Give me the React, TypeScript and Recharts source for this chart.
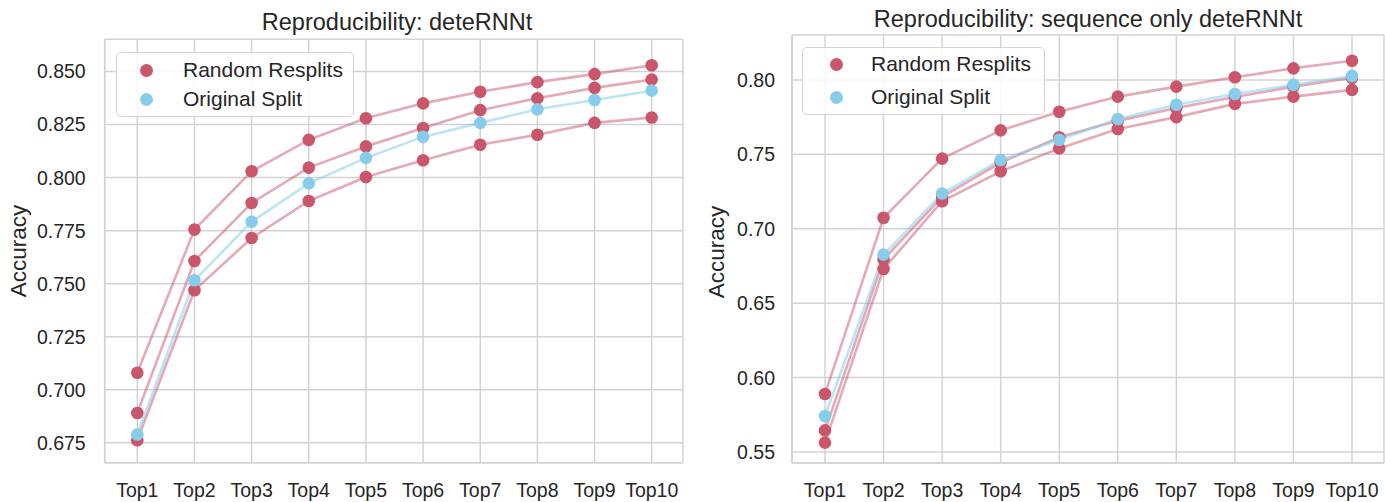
import React from 'react';
import { LineChart, Line, XAxis, YAxis, CartesianGrid, Legend } from 'recharts';

const categories = ['Top1', 'Top2', 'Top3', 'Top4', 'Top5', 'Top6', 'Top7', 'Top8', 'Top9', 'Top10'];

// left panel: deteRNNt
const leftResplitHigh = [0.708, 0.7755, 0.803, 0.8178, 0.828, 0.835, 0.8405, 0.845, 0.8488, 0.853];
const leftResplitMid = [0.689, 0.7607, 0.788, 0.8047, 0.8147, 0.8234, 0.8318, 0.8374, 0.8423, 0.8462];
const leftResplitLow = [0.6762, 0.7469, 0.7715, 0.789, 0.8003, 0.8082, 0.8155, 0.8202, 0.8258, 0.8283];
const leftOriginal = [0.6789, 0.7516, 0.7792, 0.7973, 0.8093, 0.8192, 0.8258, 0.8322, 0.8366, 0.841];
const leftTicks = [0.675, 0.7, 0.725, 0.75, 0.775, 0.8, 0.825, 0.85];

// right panel: sequence only deteRNNt
const rightResplitHigh = [0.589, 0.7074, 0.7471, 0.7661, 0.7786, 0.7888, 0.7955, 0.8018, 0.8078, 0.8129];
const rightResplitMid = [0.5645, 0.6794, 0.7215, 0.7445, 0.7615, 0.7725, 0.7812, 0.7885, 0.7955, 0.8015];
const rightResplitLow = [0.5563, 0.673, 0.7185, 0.7386, 0.754, 0.767, 0.775, 0.7839, 0.7888, 0.7933];
const rightOriginal = [0.5742, 0.6826, 0.7237, 0.7462, 0.7598, 0.7738, 0.7833, 0.7906, 0.7967, 0.8027];
const rightTicks = [0.55, 0.6, 0.65, 0.7, 0.75, 0.8];

const RED = '#c9566b';
const BLUE = '#87cdeb';
const GRID = '#d3d3d3';
const TEXT = '#262626';
const FONT = '"Liberation Sans", Arial, Helvetica, sans-serif';

const buildRows = (high: number[], mid: number[], low: number[], orig: number[]) =>
  categories.map((cat, i) => ({ cat, high: high[i], mid: mid[i], low: low[i], orig: orig[i] }));

const leftRows = buildRows(leftResplitHigh, leftResplitMid, leftResplitLow, leftOriginal);
const rightRows = buildRows(rightResplitHigh, rightResplitMid, rightResplitLow, rightOriginal);

type LegendGeom = { left: number; top: number; width: number; height: number; dotX: number; rowY: number[]; textX: number };

const LegendBox = ({ g }: { g: LegendGeom }) => {
  const items = [
    { name: 'Random Resplits', color: RED },
    { name: 'Original Split', color: BLUE },
  ];
  return (
    <div
      style={{
        position: 'relative',
        width: g.width,
        height: g.height,
        boxSizing: 'border-box',
        border: `1.5px solid ${GRID}`,
        borderRadius: 5,
        background: 'rgba(255,255,255,0.85)',
        fontFamily: FONT,
      }}
    >
      {items.map((it, i) => (
        <React.Fragment key={it.name}>
          <div
            style={{
              position: 'absolute',
              left: g.dotX - 6.5,
              top: g.rowY[i] - 6.5,
              width: 13,
              height: 13,
              borderRadius: '50%',
              background: it.color,
            }}
          />
          <span
            style={{
              position: 'absolute',
              left: g.textX,
              top: g.rowY[i] - 11,
              fontSize: 21,
              lineHeight: '21px',
              color: TEXT,
              whiteSpace: 'nowrap',
            }}
          >
            {it.name}
          </span>
        </React.Fragment>
      ))}
    </div>
  );
};

type PanelProps = {
  rows: typeof leftRows;
  domain: [number, number];
  ticks: number[];
  digits: number;
  width: number;
  plot: { left: number; top: number; right: number; bottom: number };
  pad: { left: number; right: number };
  yGap: number;
  xGap: number;
  legend: LegendGeom;
};

const Panel = ({ rows, domain, ticks, digits, width, plot, pad, yGap, xGap, legend }: PanelProps) => {
  const tickStyle = { fontSize: 19.5, fill: TEXT, fontFamily: FONT };
  const axisLine = { stroke: GRID, strokeWidth: 1.6 };
  return (
    <LineChart
      width={width}
      height={502}
      data={rows}
      margin={{ top: plot.top, right: width - plot.right, bottom: 0, left: 0 }}
    >
      <CartesianGrid stroke={GRID} strokeWidth={1.5} />
      <XAxis
        dataKey="cat"
        type="category"
        scale="point"
        padding={pad}
        height={502 - plot.bottom}
        tick={tickStyle}
        tickLine={false}
        tickSize={0}
        tickMargin={xGap}
        axisLine={axisLine}
        interval={0}
      />
      <XAxis xAxisId="top" dataKey="cat" orientation="top" height={0} tick={false} tickLine={false} axisLine={axisLine} scale="point" padding={pad} />
      <YAxis
        domain={domain}
        ticks={ticks}
        type="number"
        allowDataOverflow
        width={plot.left}
        tick={tickStyle}
        tickLine={false}
        tickSize={0}
        tickMargin={yGap}
        axisLine={axisLine}
        tickFormatter={(v: number) => v.toFixed(digits)}
      />
      <YAxis yAxisId="right" orientation="right" width={0} tick={false} tickLine={false} axisLine={axisLine} domain={domain} type="number" />
      {(['high', 'mid', 'low'] as const).map((k) => (
        <Line
          key={k}
          dataKey={k}
          stroke={RED}
          strokeOpacity={0.5}
          strokeWidth={2.6}
          dot={{ r: 6.3, fill: RED, stroke: 'none', fillOpacity: 1 }}
          isAnimationActive={false}
          legendType="none"
        />
      ))}
      <Line
        dataKey="orig"
        stroke={BLUE}
        strokeOpacity={0.55}
        strokeWidth={2.6}
        dot={{ r: 6.3, fill: BLUE, stroke: 'none', fillOpacity: 1 }}
        isAnimationActive={false}
      />
      <Legend
        layout="vertical"
        align="center"
        verticalAlign="middle"
        content={() => <LegendBox g={legend} />}
        wrapperStyle={{ left: legend.left, top: legend.top, width: legend.width, height: legend.height }}
      />
    </LineChart>
  );
};

export default function App() {
  return (
    <div style={{ position: 'absolute', left: 0, top: 0, width: 1385, height: 502, background: '#fff', fontFamily: FONT }}>
      <div style={{ position: 'absolute', left: 0, top: 0 }}>
        <Panel
          rows={leftRows}
          domain={[0.6656, 0.8652]}
          ticks={leftTicks}
          digits={3}
          width={690}
          plot={{ left: 104.7, top: 39.3, right: 683, bottom: 462.7 }}
          pad={{ left: 32.6, right: 31.3 }}
          yGap={19}
          xGap={20}
          legend={{ left: 116, top: 52, width: 238, height: 65, dotX: 29, rowY: [17, 46], textX: 66 }}
        />
      </div>
      <div style={{ position: 'absolute', left: 690, top: 0 }}>
        <Panel
          rows={rightRows}
          domain={[0.5426, 0.8302]}
          ticks={rightTicks}
          digits={2}
          width={695}
          plot={{ left: 102, top: 35, right: 694, bottom: 463 }}
          pad={{ left: 33, right: 32 }}
          yGap={17}
          xGap={20}
          legend={{ left: 112, top: 47, width: 243, height: 68, dotX: 33, rowY: [16, 49], textX: 68 }}
        />
      </div>
      <svg width={1385} height={502} style={{ position: 'absolute', left: 0, top: 0, pointerEvents: 'none' }}>
        <g fontFamily={FONT} fill={TEXT}>
          <text x={397} y={30} fontSize={23.5} textAnchor="middle">Reproducibility: deteRNNt</text>
          <text x={1088} y={27} fontSize={23.5} textAnchor="middle">Reproducibility: sequence only deteRNNt</text>
          <text x={26} y={251} fontSize={22.5} textAnchor="middle" transform="rotate(-90 26 251)">Accuracy</text>
          <text x={724} y={252} fontSize={22.5} textAnchor="middle" transform="rotate(-90 724 252)">Accuracy</text>
        </g>
      </svg>
    </div>
  );
}
